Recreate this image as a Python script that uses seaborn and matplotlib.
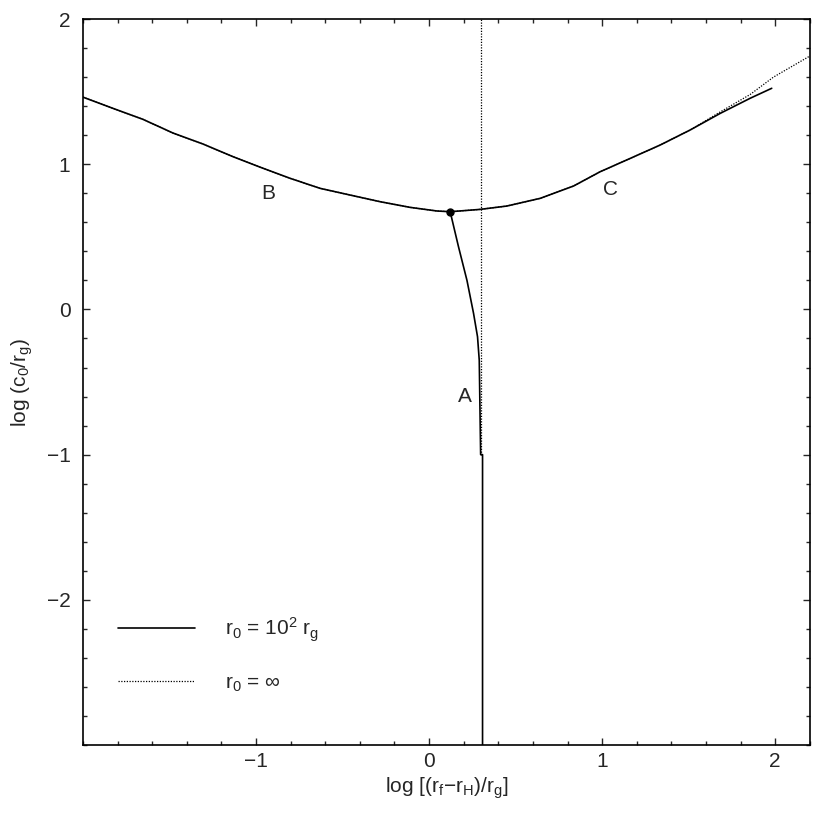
import matplotlib
matplotlib.use("Agg")
import matplotlib.pyplot as plt
import seaborn as sns
import pandas as pd
from matplotlib.lines import Line2D
from matplotlib.ticker import MultipleLocator

# ---- data ----
bc_x = [-2.0, -1.827, -1.653, -1.48, -1.306, -1.133, -0.979, -0.803, -0.630, -0.457,
        -0.283, -0.110, 0.045, 0.122, 0.295, 0.449, 0.642, 0.835, 0.988, 1.162, 1.335,
        1.509, 1.682, 1.855, 1.98]
bc_y_r100 = [1.462, 1.385, 1.309, 1.215, 1.139, 1.052, 0.981, 0.903, 0.834, 0.788,
             0.742, 0.703, 0.678, 0.673, 0.689, 0.712, 0.765, 0.850, 0.948, 1.040, 1.132,
             1.236, 1.350, 1.454, 1.523]

inf_x = [-2.0, -1.827, -1.653, -1.48, -1.306, -1.133, -0.979, -0.803, -0.630, -0.457,
         -0.283, -0.110, 0.045, 0.122, 0.295, 0.449, 0.642, 0.835, 0.988, 1.162, 1.335,
         1.509, 1.682, 1.855, 1.99, 2.2]
inf_y = [1.462, 1.385, 1.309, 1.215, 1.139, 1.052, 0.981, 0.903, 0.834, 0.788,
         0.742, 0.703, 0.678, 0.673, 0.689, 0.712, 0.765, 0.850, 0.948, 1.040, 1.132,
         1.236, 1.360, 1.480, 1.600, 1.745]

a_x = [0.122, 0.17, 0.219, 0.257, 0.28, 0.29, 0.298, 0.309, 0.309]
a_y = [0.673, 0.432, 0.2, -0.027, -0.188, -0.35, -1.0, -1.0, -3.0]

vert_x = [0.30, 0.30]
vert_y = [-1.0, 2.0]

sonic_x = [0.122]
sonic_y = [0.673]

labels_txt = ["A", "B", "C"]
labels_x = [0.208, -0.93, 1.046]
labels_y = [-0.6, 0.80, 0.824]

legend_labels = [r"r$_0$ = 10$^2$ r$_{\rm g}$", r"r$_0$ = $\infty$"]

# ---- style ----
sns.set_style("ticks")
plt.rcParams["font.family"] = ["Liberation Sans", "DejaVu Sans"]
plt.rcParams["mathtext.fontset"] = "custom"
plt.rcParams["mathtext.rm"] = "Liberation Sans"
plt.rcParams["mathtext.it"] = "Liberation Sans"
plt.rcParams["mathtext.default"] = "regular"

fig = plt.figure(figsize=(8.28, 8.17), dpi=100)
ax = fig.add_axes([0.1002, 0.0881, 0.8778, 0.8886])

dotted = (0, (1, 1.2))

df_bc = pd.DataFrame({"x": bc_x, "y": bc_y_r100})
df_inf = pd.DataFrame({"x": inf_x, "y": inf_y})
df_a = pd.DataFrame({"x": a_x, "y": a_y})
df_v = pd.DataFrame({"x": vert_x, "y": vert_y})

sns.lineplot(data=df_bc, x="x", y="y", ax=ax, color="black", lw=1.2, sort=False, estimator=None)
sns.lineplot(data=df_a, x="x", y="y", ax=ax, color="black", lw=1.2, sort=False, estimator=None)
sns.lineplot(data=df_inf, x="x", y="y", ax=ax, color="black", lw=0.9, linestyle=dotted,
             sort=False, estimator=None)
sns.lineplot(data=df_v, x="x", y="y", ax=ax, color="black", lw=0.9, linestyle=dotted,
             sort=False, estimator=None)
ax.plot(sonic_x, sonic_y, "o", color="black", ms=5)

for t, x, y in zip(labels_txt, labels_x, labels_y):
    ax.text(x, y, t, fontsize=15, ha="center", va="center")

ax.set_xlim(-2.0, 2.2)
ax.set_ylim(-3.0, 2.0)
ax.xaxis.set_minor_locator(MultipleLocator(0.2))
ax.yaxis.set_minor_locator(MultipleLocator(0.2))
ax.set_xticks([-1, 0, 1, 2])
ax.set_yticks([-2, -1, 0, 1, 2])
ax.tick_params(which="both", direction="in", top=True, right=True, labelsize=15)
ax.tick_params(axis="x", pad=5)
ax.tick_params(axis="y", pad=9)
ax.tick_params(which="major", length=5, width=1)
ax.tick_params(which="minor", length=3, width=1)
for s in ax.spines.values():
    s.set_linewidth(1.2)
    s.set_color("black")

ax.set_xlabel(r"log [(r$_{\rm f}$$-$r$_{\rm H}$)/r$_{\rm g}$]", fontsize=15, labelpad=3)
ax.set_ylabel(r"log (c$_0$/r$_{\rm g}$)", fontsize=15, labelpad=8)

handles = [Line2D([], [], color="black", lw=1.2),
           Line2D([], [], color="black", lw=0.9, linestyle=dotted)]
ax.legend(handles, legend_labels, loc="lower left", bbox_to_anchor=(0.022, 0.045),
          frameon=False, fontsize=15, handlelength=3.7, handletextpad=1.45, labelspacing=1.4)

fig.savefig("out.png", dpi=100, facecolor="white")
